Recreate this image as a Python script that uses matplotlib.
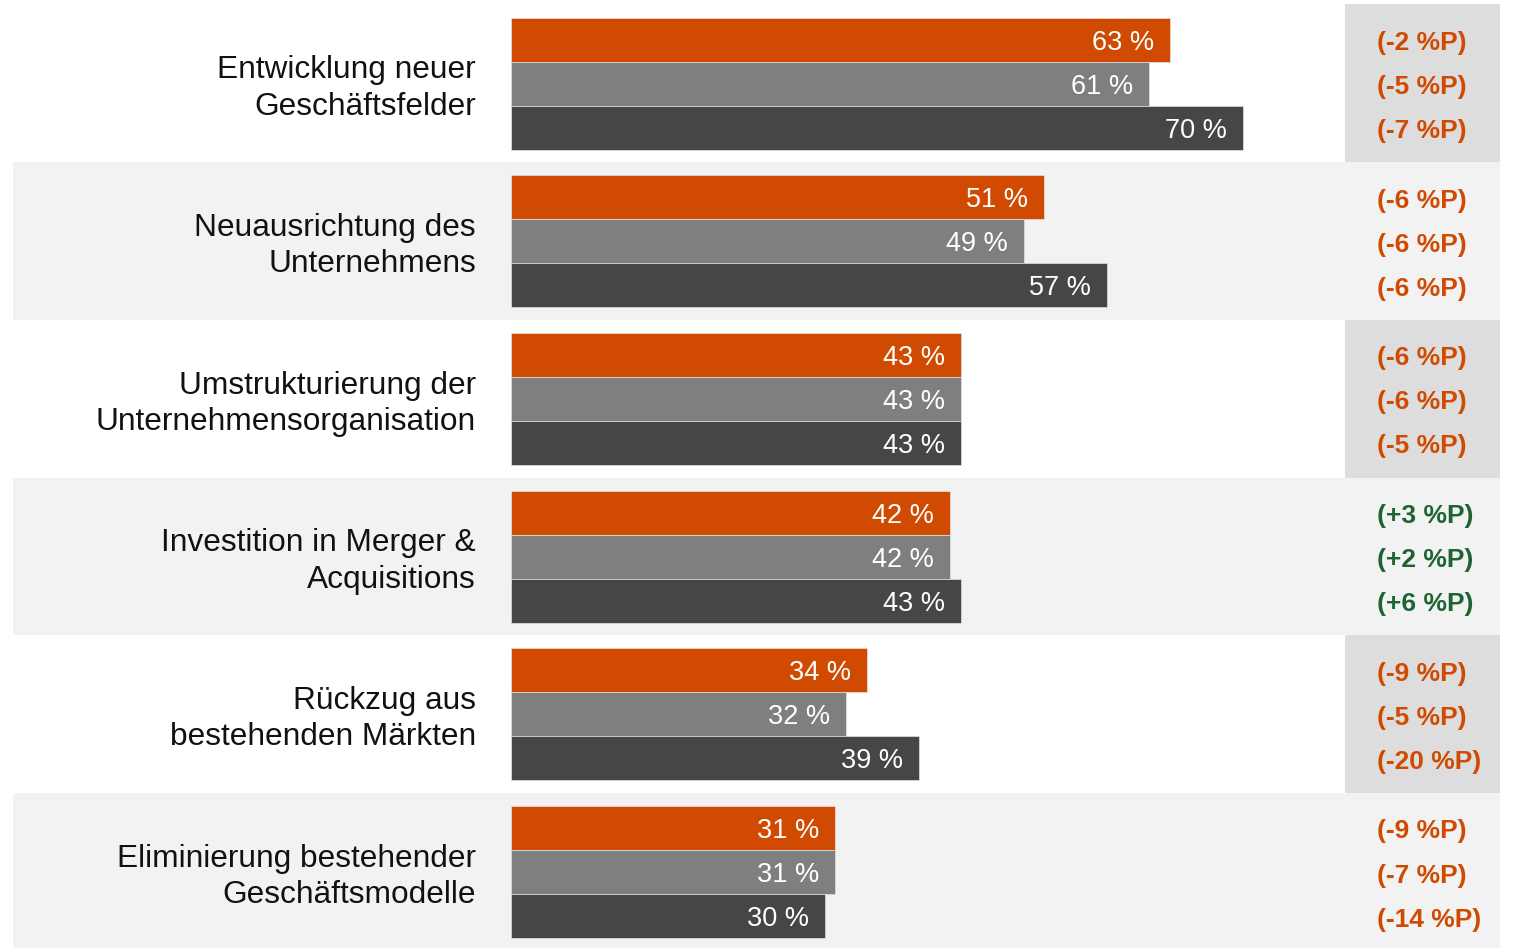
import matplotlib
matplotlib.use("Agg")
import matplotlib.pyplot as plt

plt.rcParams['font.family'] = ['Liberation Sans', 'DejaVu Sans']

categories = [
    "Entwicklung neuer\nGeschäftsfelder",
    "Neuausrichtung des\nUnternehmens",
    "Umstrukturierung der\nUnternehmensorganisation",
    "Investition in Merger &\nAcquisitions",
    "Rückzug aus\nbestehenden Märkten",
    "Eliminierung bestehender\nGeschäftsmodelle",
]
series_a = [63, 51, 43, 42, 34, 31]   # orange
series_b = [61, 49, 43, 42, 32, 31]   # gray
series_c = [70, 57, 43, 43, 39, 30]   # dark gray
delta_a = [-2, -6, -6, 3, -9, -9]
delta_b = [-5, -6, -6, 2, -5, -7]
delta_c = [-7, -6, -5, 6, -20, -14]

ORANGE = "#D04A02"
GRAY = "#7F7F7F"
DARK = "#464646"
GREEN = "#1E6432"
BAND = "#F2F2F2"
BOX = "#DDDDDD"

W, H = 1514, 948
fig = plt.figure(figsize=(W / 100, H / 100), dpi=100)
ax = fig.add_axes([0, 0, 1, 1])

px_per_unit = 10.46
x0_px = 511
ax.set_xlim(-x0_px / px_per_unit, (W - x0_px) / px_per_unit)
pitch = 157.7
c0 = 83.5
ax.set_ylim((H - c0) / pitch, -c0 / pitch)
ax.axis("off")
px = 1 / pitch

bh = 44 / pitch
n = len(categories)

# background bands and right-hand boxes
for i in range(n):
    if i % 2 == 1:
        ax.axhspan(i - 0.5, i + 0.5, xmin=13 / W, xmax=1500 / W, color=BAND, lw=0, zorder=0)
    else:
        top = i - 0.5 if i > 0 else (4 - c0) / pitch
        ax.axhspan(top, i + 0.5, xmin=1345 / W, xmax=1500 / W, color=BOX, lw=0, zorder=0)

ys = list(range(n))
offsets = [-bh, 0, bh]
series = [series_a, series_b, series_c]
colors = [ORANGE, GRAY, DARK]
deltas = [delta_a, delta_b, delta_c]

val_pad = 16 / px_per_unit
x_delta = (1377 - x0_px) / px_per_unit
x_label = (476 - x0_px) / px_per_unit

for s, col, off in zip(series, colors, offsets):
    yy = [y + off for y in ys]
    ax.barh(yy, s, height=bh, color=col, edgecolor="#E2E2E2", linewidth=0.5, zorder=2)
    for y, v in zip(yy, s):
        ax.text(v - val_pad, y + 3 * px, f"{v} %", ha="right", va="center",
                color="white", fontsize=19.5, zorder=3)

for d, off in zip(deltas, offsets):
    for y, v in zip(ys, d):
        txt = f"(+{v} %P)" if v > 0 else f"({v} %P)"
        ax.text(x_delta, y + off + 3.5 * px, txt, ha="left", va="center",
                color=GREEN if v > 0 else ORANGE, fontsize=19, fontweight="bold", zorder=3)

for y, c in zip(ys, categories):
    ax.text(x_label, y + 5 * px, c, ha="right", va="center", fontsize=22.8,
            color="#111111", linespacing=1.27, zorder=3)

fig.savefig("out.png", dpi=100)
